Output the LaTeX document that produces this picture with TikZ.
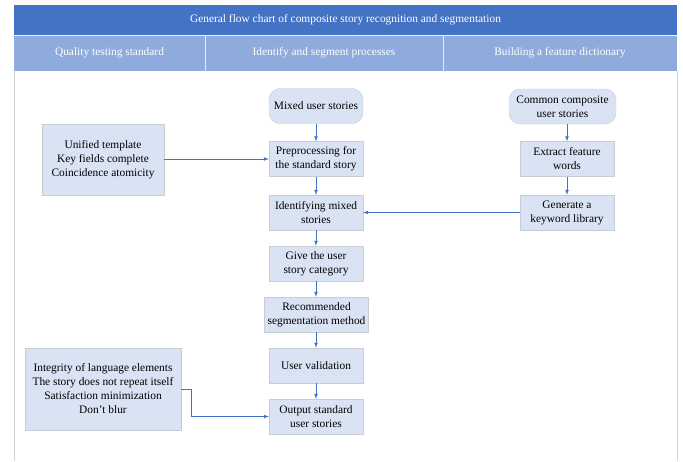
\documentclass[tikz,border=0pt]{standalone}
\usepackage{fontspec}
\setmainfont{Liberation Serif}
\usetikzlibrary{calc}

\definecolor{headblue}{HTML}{4472C4}
\definecolor{bandblue}{HTML}{8FAADC}
\definecolor{boxfill}{HTML}{DAE3F3}
\definecolor{boxline}{HTML}{C8CCD4}
\definecolor{framegray}{HTML}{D4D4D4}

\tikzset{
    txt/.style={font=\fontsize{11.4}{14}\selectfont},
    proc/.style={txt, draw=boxline, fill=boxfill, align=center,
        minimum width=94pt, minimum height=35pt, inner xsep=3pt},
    roundbox/.style={proc, rounded corners=11pt},
    rule/.style={proc, inner xsep=5pt},
    arr/.style={draw=headblue, line width=0.7pt, -latex}
}

\begin{document}
\begin{tikzpicture}[x=1pt, y=-1pt]
            \useasboundingbox (0, 0) rectangle (683, 461);
            % frame and header
            \draw[framegray] (14, 71) -- (14, 461);
            \draw[framegray] (677, 71) -- (677, 461);
            \fill[headblue] (14, 5) rectangle (677, 35);
            \fill[bandblue] (14, 35) rectangle (677, 71);
            \draw[white!85!bandblue, line width=0.8pt] (14, 35) -- (677, 35);
            \draw[white!75!bandblue, line width=0.8pt] (205, 35) -- (205, 71);
            \draw[white!75!bandblue, line width=0.8pt] (443, 35) -- (443, 71);
            \node[txt, white] (title) at (345.5, 20) {General flow chart of composite story recognition and segmentation};
            \node[txt, white] (colA) at (109.5, 53) {Quality testing standard};
            \node[txt, white] (colB) at (324, 53) {Identify and segment processes};
            \node[txt, white] (colC) at (560, 53) {Building a feature dictionary};

            % middle column
            \node[roundbox] (mixed) at (316, 106) {Mixed user stories};
            \node[proc] (prep) at (316, 159) {Preprocessing for\\the standard story};
            \node[proc] (ident) at (316, 212.5) {Identifying mixed\\stories};
            \node[proc] (categ) at (316, 263.5) {Give the user\\story category};
            \node[proc] (recom) at (316.5, 314.5) {Recommended\\segmentation method};
            \node[proc] (valid) at (316, 365.5) {User validation};
            \node[proc] (output) at (316, 416.5) {Output standard\\user stories};

            % right column
            \node[roundbox, minimum width=107pt] (common) at (562.5, 106.5) {Common composite\\user stories};
            \node[proc] (extract) at (567, 159) {Extract feature\\words};
            \node[proc] (keyword) at (567, 212.5) {Generate a\\keyword library};

            % left column
            \node[rule, minimum width=122pt, minimum height=71pt] (ruleA) at (103, 159.5) {Unified template\\Key fields complete\\Coincidence atomicity};
            \node[rule, minimum width=156pt, minimum height=82pt] (ruleB) at (103, 389) {Integrity of language elements\\The story does not repeat itself\\Satisfaction minimization\\Don't blur};

            % connectors
            \draw[arr] (mixed) -- (prep);
            \draw[arr] (prep) -- (ident);
            \draw[arr] (ident) -- (categ);
            \draw[arr] (categ) -- (recom.north -| categ);
            \draw[arr] (recom.south -| valid) -- (valid);
            \draw[arr] (valid) -- (output);
            \draw[arr] (common.south -| extract) -- (extract);
            \draw[arr] (extract) -- (keyword);
            \draw[arr] (keyword) -- (ident);
            \draw[arr] (ruleA.east |- prep) -- (prep);
            \draw[arr] (ruleB.east) -- ++(10, 0) |- (output.west);
        \end{tikzpicture}
\end{document}
